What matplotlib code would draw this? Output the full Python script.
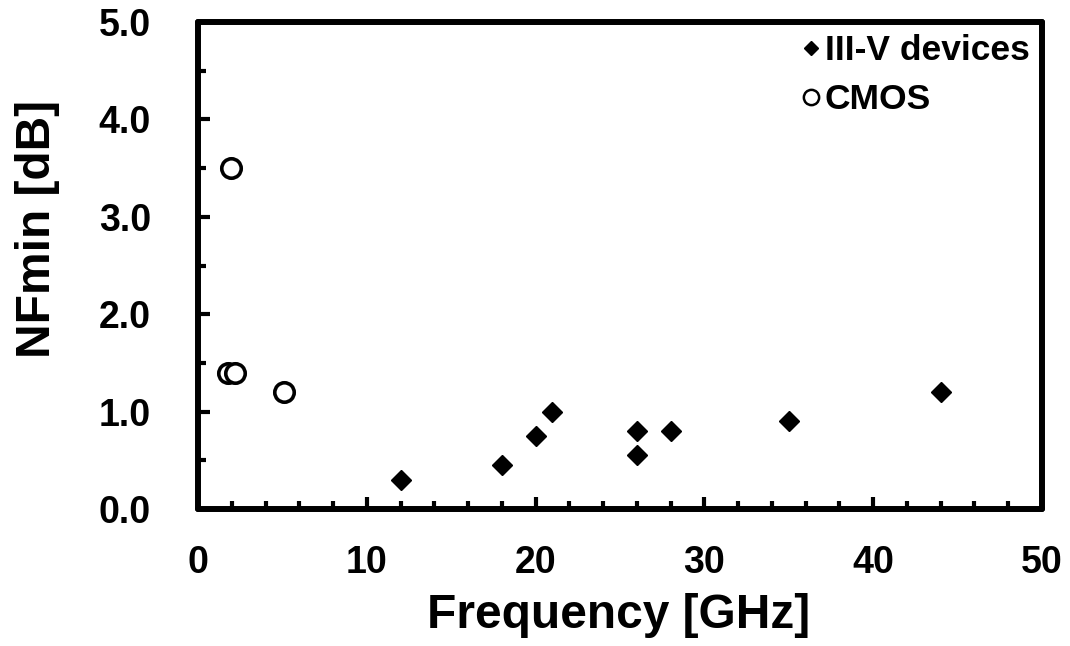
import matplotlib
matplotlib.use('Agg')
import matplotlib.pyplot as plt
from matplotlib.ticker import MultipleLocator
from matplotlib.lines import Line2D

plt.rcParams['font.family'] = ['Liberation Sans', 'DejaVu Sans']
plt.rcParams['font.weight'] = 'bold'

# III-V devices
iii_v_freq = [12, 18, 20, 21, 26, 26, 28, 35, 44]
iii_v_nf = [0.30, 0.45, 0.75, 1.00, 0.80, 0.55, 0.80, 0.90, 1.20]
# CMOS
cmos_freq = [1.97, 1.8, 2.2, 5.1]
cmos_nf = [3.50, 1.40, 1.40, 1.20]

fig = plt.figure(figsize=(10.7, 6.46), dpi=100)
ax = fig.add_axes([198/1070, (646-509)/646, 844/1070, 487/646])

ax.plot(iii_v_freq, iii_v_nf, 'D', color='black', markersize=10, linestyle='none')
ax.plot(cmos_freq, cmos_nf, 'o', markerfacecolor='white', markeredgecolor='black',
        markeredgewidth=2.6, markersize=14, linestyle='none')

ax.set_xlim(0, 50)
ax.set_ylim(0, 5)
ax.xaxis.set_major_locator(MultipleLocator(10))
ax.xaxis.set_minor_locator(MultipleLocator(2))
ax.yaxis.set_major_locator(MultipleLocator(1))
ax.yaxis.set_minor_locator(MultipleLocator(0.5))
ax.yaxis.set_major_formatter(plt.FormatStrFormatter('%.1f'))

ax.tick_params(which='major', direction='in', length=8.5, width=3, labelsize=27)
ax.tick_params(which='minor', direction='in', length=6, width=3)
ax.tick_params(axis='x', which='major', pad=26)
ax.tick_params(axis='y', which='major', pad=34)
for s in ax.spines.values():
    s.set_linewidth(4.3)
    s.set_capstyle('round')

ax.set_xlabel('Frequency [GHz]', fontsize=34.5, fontweight='bold')
ax.set_ylabel('NFmin [dB]', fontsize=34.5, fontweight='bold')
ax.xaxis.set_label_coords(0.498, -0.172)
ax.yaxis.set_label_coords(-0.163, 0.576)

handles = [
    Line2D([], [], marker='D', color='black', markersize=7.5, linestyle='none'),
    Line2D([], [], marker='o', markerfacecolor='white', markeredgecolor='black',
           markeredgewidth=1.8, markersize=11, linestyle='none'),
]
ax.legend(handles, ['III-V devices', 'CMOS'], loc='upper right', frameon=False,
          handlelength=0.5, handletextpad=0.15, labelspacing=0.45,
          borderaxespad=0.15, borderpad=0.2, prop={'weight': 'bold', 'size': 25.5})

plt.savefig('out.png', dpi=100)
